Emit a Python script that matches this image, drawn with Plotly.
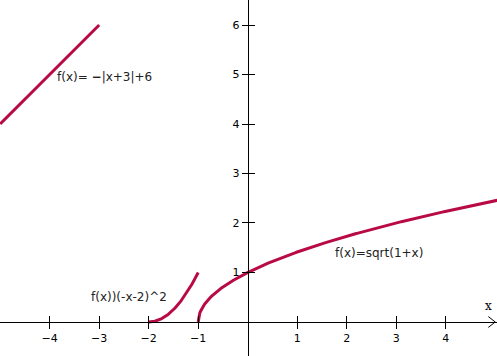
import numpy as np
import plotly.graph_objects as go

# Function segments (domains) and labels
abs_domain = [-5.0, -3.0]          # f(x) = -|x+3| + 6
par_domain = [-2.0, -1.0]          # f(x) = (-x-2)^2
sqrt_domain = [-1.0, 5.04]         # f(x) = sqrt(1+x)
x_ticks = [-4, -3, -2, -1, 1, 2, 3, 4]
y_ticks = [1, 2, 3, 4, 5, 6]
labels = ["f(x)= <b>−</b>|x+3|+6", "f(x))(-x-2)^2", "f(x)=sqrt(1+x)"]
label_pos_x = [-2.9, -2.4, 2.65]
label_pos_y = [4.95, 0.51, 1.39]

X_RANGE = [-5.004, 5.036]
Y_RANGE = [-0.687, 6.505]

def f_abs(x):
    return -np.abs(x + 3) + 6

def f_par(x):
    return (-x - 2) ** 2

def f_sqrt(x):
    return np.sqrt(1 + x)

col = "#B80A45"
fig = go.Figure()
for dom, fn in [(abs_domain, f_abs), (par_domain, f_par), (sqrt_domain, f_sqrt)]:
    xs = np.linspace(dom[0], dom[1], 400)
    fig.add_trace(go.Scatter(x=xs, y=fn(xs), mode="lines",
                             line=dict(color=col, width=3), showlegend=False,
                             hoverinfo="skip"))

for t, lx, ly in zip(labels, label_pos_x, label_pos_y):
    fig.add_annotation(x=lx, y=ly, text=t, showarrow=False,
                       font=dict(family="DejaVu Sans", size=12, color="#222222"))

ypos = (0 - X_RANGE[0]) / (X_RANGE[1] - X_RANGE[0])
xpos = (0 - Y_RANGE[0]) / (Y_RANGE[1] - Y_RANGE[0])

tickfont = dict(family="DejaVu Sans", size=11, color="black")
fig.update_layout(
    width=497, height=356,
    margin=dict(l=0, r=0, t=0, b=0),
    paper_bgcolor="white", plot_bgcolor="white",
    xaxis=dict(range=X_RANGE, anchor="free", position=xpos, showgrid=False,
               zeroline=False, showline=True, linecolor="black", linewidth=1,
               tickvals=x_ticks, ticks="outside", ticklen=6, tickcolor="black",
               tickfont=tickfont),
    yaxis=dict(range=Y_RANGE, anchor="free", position=ypos, showgrid=False,
               zeroline=False, showline=True, linecolor="black", linewidth=1,
               tickvals=y_ticks, ticks="outside", ticklen=6, tickcolor="black",
               tickfont=tickfont),
    xaxis2=dict(range=X_RANGE, overlaying="x", anchor="free", position=xpos,
                showgrid=False, zeroline=False, tickvals=x_ticks,
                ticks="inside", ticklen=6, tickcolor="black",
                showticklabels=False, side="bottom"),
    yaxis2=dict(range=Y_RANGE, overlaying="y", anchor="free", position=ypos,
                showgrid=False, zeroline=False, tickvals=y_ticks,
                ticks="inside", ticklen=6, tickcolor="black",
                showticklabels=False, side="left"),
)
fig.add_trace(go.Scatter(x=[None], y=[None], xaxis="x2", yaxis="y2",
                         showlegend=False))

# arrow head at the end of x axis and axis name
fig.add_shape(type="path", path="M 4.86 0.11 L 5.0 0 L 4.86 -0.11",
              line=dict(color="black", width=1))
fig.add_annotation(x=4.87, y=0.32, text="x", showarrow=False,
                   font=dict(family="DejaVu Serif", size=12, color="black"))

fig.write_html("out.html")
